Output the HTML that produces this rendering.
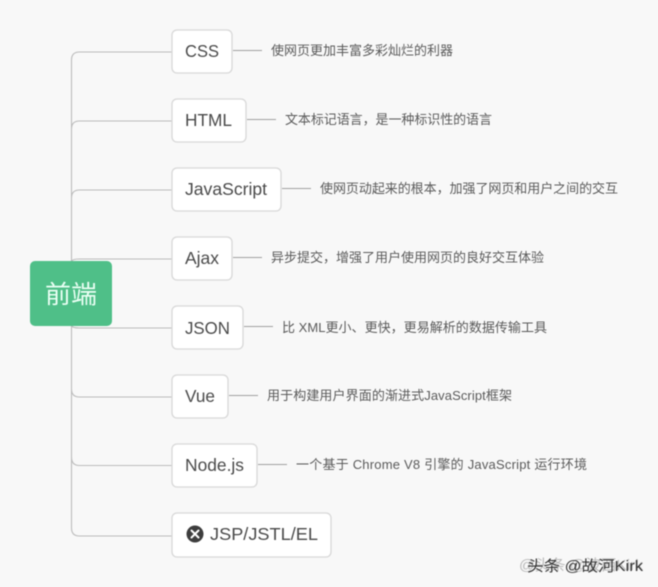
<!DOCTYPE html>
<html><head><meta charset="utf-8">
<style>
html,body{margin:0;padding:0;background:#f8f8f8;width:658px;height:587px;overflow:hidden}
svg{display:block;filter:blur(.45px)}
text{font-family:"Liberation Sans","Noto Sans CJK SC",sans-serif}
.n{font-size:17.5px;fill:#4a4a4a}
.d{font-size:13px;fill:#5a5a5a}
.b{fill:#fff;stroke:#d8d8d8;stroke-width:1.3}
.l{stroke:#bcbcbc;stroke-width:1.1;fill:none}
.s{stroke:#a0a0a0;stroke-width:1;fill:none}
</style></head><body>
<svg width="658" height="587" viewBox="0 0 658 587" xmlns="http://www.w3.org/2000/svg">
<rect width="658" height="587" fill="#f8f8f8"/>
<path class="l" d="M71.5 262V60Q71.5 52 79.5 52H172M71.500 129Q71.500 121 79.500 121H172M71.500 198Q71.500 190 79.500 190H172M71.500 262Q71.500 259 79.500 259H172M71.500 326V528Q71.500 536 79.500 536H172M71.500 326Q73 328 79.500 328H172M71.500 389Q71.500 397 79.500 397H172M71.500 457Q71.500 465.500 79.500 465.500H172"/>
<rect x="30" y="261" width="82" height="65" rx="5" fill="#4fbf88"/>
<text x="71" y="303" font-size="25" fill="#eafff4" text-anchor="middle" textLength="52" lengthAdjust="spacingAndGlyphs">前端</text>

<rect class="b" x="172" y="30" width="60" height="43" rx="5"/>
<text class="n" x="185" y="57" textLength="34" lengthAdjust="spacingAndGlyphs">CSS</text>
<path class="s" d="M233 50.500H262"/>
<text class="d" x="271" y="55" textLength="182">使网页更加丰富多彩灿烂的利器</text>

<rect class="b" x="172" y="99" width="74" height="43" rx="5"/>
<text class="n" x="185" y="126" textLength="47" lengthAdjust="spacingAndGlyphs">HTML</text>
<path class="s" d="M247 119.500H276"/>
<text class="d" x="285" y="124" textLength="207">文本标记语言，是一种标识性的语言</text>

<rect class="b" x="172" y="168" width="109" height="43" rx="5"/>
<text class="n" x="185" y="195" textLength="82" lengthAdjust="spacingAndGlyphs">JavaScript</text>
<path class="s" d="M282 188.500H311"/>
<text class="d" x="320" y="193" textLength="298">使网页动起来的根本，加强了网页和用户之间的交互</text>

<rect class="b" x="172" y="237" width="60" height="43" rx="5"/>
<text class="n" x="185" y="264" textLength="34" lengthAdjust="spacingAndGlyphs">Ajax</text>
<path class="s" d="M233 257.500H262"/>
<text class="d" x="271" y="262" textLength="273">异步提交，增强了用户使用网页的良好交互体验</text>

<rect class="b" x="172" y="306" width="71" height="43" rx="5"/>
<text class="n" x="185" y="334" textLength="45" lengthAdjust="spacingAndGlyphs">JSON</text>
<path class="s" d="M244 326.500H273"/>
<text class="d" x="282" y="332" textLength="265">比 XML更小、更快，更易解析的数据传输工具</text>

<rect class="b" x="172" y="375" width="56" height="43" rx="5"/>
<text class="n" x="185" y="402" textLength="30" lengthAdjust="spacingAndGlyphs">Vue</text>
<path class="s" d="M229 395.500H258"/>
<text class="d" x="267" y="400" textLength="245">用于构建用户界面的渐进式JavaScript框架</text>

<rect class="b" x="172" y="444" width="85" height="43" rx="5"/>
<text class="n" x="185" y="471" textLength="59" lengthAdjust="spacingAndGlyphs">Node.js</text>
<path class="s" d="M258 464.500H287"/>
<text class="d" x="296" y="469" textLength="291">一个基于 Chrome V8 引擎的 JavaScript 运行环境</text>

<rect class="b" x="172" y="513" width="159" height="44" rx="5"/>
<circle cx="195" cy="534" r="8.500" fill="#3d3d3d"/>
<path d="M191.500 530.500L198.500 537.500M198.500 530.500L191.500 537.500" stroke="#fff" stroke-width="2" stroke-linecap="round"/>
<text class="n" x="210" y="540" textLength="108" lengthAdjust="spacingAndGlyphs">JSP/JSTL/EL</text>

<text x="519" y="570" font-size="15" fill="#bbb" textLength="124" lengthAdjust="spacingAndGlyphs">@头条 @波西Kirk</text>
<text x="527" y="571" font-size="15" fill="#333" textLength="116" lengthAdjust="spacingAndGlyphs">头条 @故河Kirk</text>
</svg>
</body></html>
